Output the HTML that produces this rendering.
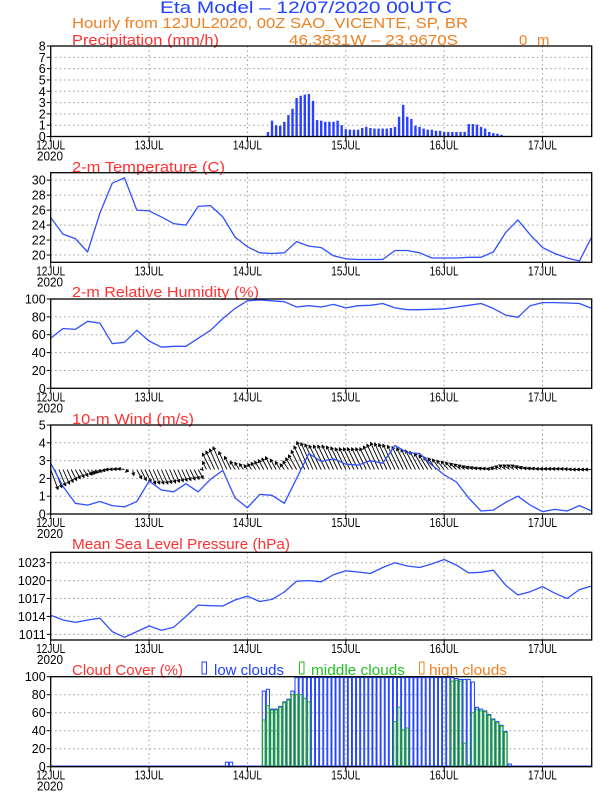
<!DOCTYPE html>
<html><head><meta charset="utf-8"><style>
html,body{margin:0;padding:0;background:#fff;}
svg{display:block;font-family:"Liberation Sans",sans-serif;}
</style></head><body>
<svg id="chart" width="612" height="792" viewBox="0 0 612 792" xmlns="http://www.w3.org/2000/svg">
<rect width="612" height="792" fill="#fff"/>
<text x="160" y="13" font-size="17" fill="#2040ff" textLength="292" lengthAdjust="spacingAndGlyphs">Eta Model – 12/07/2020 00UTC</text>
<text x="72" y="28" font-size="15" fill="#f08020" textLength="396" lengthAdjust="spacingAndGlyphs">Hourly from 12JUL2020, 00Z  SAO_VICENTE, SP, BR</text>
<text x="289" y="45" font-size="15" fill="#f08020" textLength="169" lengthAdjust="spacingAndGlyphs">46.3831W – 23.9670S</text>
<text x="519" y="45" font-size="15" fill="#f08020">0</text>
<text x="537" y="45" font-size="15" fill="#f08020">m</text>
<g id="g"></g>
</svg>
<script>
// ---- data (hours from 12JUL 00Z) ----
const dayLabels = ["12JUL","13JUL","14JUL","15JUL","16JUL","17JUL"];
const precipStartHour = 53;
const precipValues = [0.4,1.4,1.0,0.95,1.3,1.9,2.45,3.4,3.6,3.7,3.75,3.15,1.45,1.4,1.3,1.3,1.3,1.4,1.0,0.65,0.6,0.6,0.6,0.75,0.85,0.75,0.7,0.7,0.7,0.7,0.75,0.85,1.75,2.8,1.75,1.55,0.95,0.85,0.7,0.6,0.6,0.5,0.5,0.4,0.4,0.4,0.4,0.4,0.4,1.1,1.1,1.05,0.85,0.7,0.4,0.3,0.25,0.15,0.05];
const stepHours = 3;
const temperature = [25.0,22.8,22.2,20.4,25.6,29.6,30.3,26.0,25.9,25.1,24.2,24.0,26.5,26.6,25.1,22.4,21.1,20.3,20.2,20.3,21.8,21.2,21.0,19.9,19.5,19.4,19.4,19.4,20.6,20.6,20.3,19.6,19.6,19.6,19.7,19.7,20.4,23.0,24.7,22.7,21.0,20.2,19.6,19.2,22.4];
const humidity = [56,67,66,75,73,50,51.5,65,53,46,47,47,56,65,78,89.5,98,99,98,97,91,92.5,91,94,90,92.5,93,95,90,88,88,88.5,89,91,93,95,89.5,82,79.5,92.5,96,96,95.5,95,89.5];
const windSpeed = [2.85,1.55,0.6,0.5,0.7,0.47,0.4,0.7,1.85,1.35,1.25,1.7,1.25,1.95,2.45,0.9,0.35,1.1,1.05,0.6,2.0,3.4,2.95,3.1,2.8,2.75,3.0,2.85,3.85,3.45,3.4,2.75,2.2,1.8,0.9,0.17,0.22,0.65,1.0,0.5,0.13,0.26,0.17,0.47,0.17];
const windV = [-1.1,-0.8,-0.5,-0.3,-0.2,0,0.05,-0.5,-0.8,-0.8,-0.7,-0.6,-0.5,0.9,1.25,0.45,0.25,0.45,0.7,0.3,0.8,1.55,1.35,1.35,1.2,1.2,1.2,1.5,1.4,1.2,1.0,0.7,0.5,0.35,0.2,0.1,0.05,0.25,0.25,0.1,0.05,0.05,0.05,0,0];
const windU = [0.9,0.8,0.6,0.5,-0.5,-0.8,-0.8,0.6,0.8,0.8,0.7,0.6,0.6,-1.0,-1.2,-0.6,-0.4,-0.6,-0.8,-0.5,-1.0,-1.5,-1.5,-1.4,-1.3,-1.3,-1.3,-1.5,-1.5,-1.3,-1.2,-1.0,-0.9,-0.8,-0.8,-0.8,-0.8,-0.8,-0.8,-0.8,-0.8,-0.8,-0.8,-0.8,-0.8];
const pressure = [1014.2,1013.4,1013.0,1013.4,1013.7,1011.45,1010.5,1011.45,1012.4,1011.7,1012.2,1014.0,1015.9,1015.8,1015.75,1016.75,1017.4,1016.5,1016.85,1018.1,1019.9,1020.0,1019.8,1021.0,1021.65,1021.45,1021.2,1022.2,1023.0,1022.45,1022.2,1022.8,1023.55,1022.6,1021.3,1021.4,1021.75,1019.25,1017.6,1018.15,1019.0,1017.9,1017.0,1018.5,1019.1];
const cloudStartHour = 40;
const lowClouds = [0,0,0,5,5,0,0,0,0,0,0,0,84,86,64,64,67,72,75,84,99,99,99,99,99,99,99,99,99,99,99,99,99,99,99,99,99,99,99,99,99,99,99,99,99,99,99,99,99,99,99,99,99,99,99,99,99,99,99,98,97,97,97,94,66,64,62,58,53,50,46,39,3];
const midClouds = [0,0,0,0,0,0,0,0,0,0,0,0,52,68,63,63,66,71,74,80,80,80,76,72,0,0,0,0,0,0,0,0,0,0,0,0,0,0,0,0,0,0,0,0,50,66,41,43,0,0,0,0,0,0,0,0,0,0,95,96,95,26,2,60,64,62,61,57,52,49,45,38,0];
const precipTicks = [0,1,2,3,4,5,6,7,8];
const tempTicks = [20,22,24,26,28,30];
const rhTicks = [0,20,40,60,80,100];
const windTicks = [0,1,2,3,4,5];
const slpTicks = [1011,1014,1017,1020,1023];
const cloudTicks = [0,20,40,60,80,100];

// ---- geometry ----
const NS="http://www.w3.org/2000/svg";
const G=document.getElementById('g');
const X0=50.7, X1=591.7, HMAX=132;
function xs(h){return X0+(X1-X0)*h/HMAX;}
function ys(p,v){return p.bottom-(v-p.min)/(p.max-p.min)*(p.bottom-p.top);}
function mk(tag,attrs,parent){const e=document.createElementNS(NS,tag);for(const k in attrs)e.setAttribute(k,attrs[k]);(parent||G).appendChild(e);return e;}
const BLUE="#3050ff";

function panel(p,ticks,name,title,titleW,titleY){
  const grp=mk('g',{});
  
  
  for(let d=1;d<dayLabels.length;d++){
    const gl=mk('line',{x1:xs(d*24),x2:xs(d*24),y1:p.top,y2:p.bottom,stroke:'#999','stroke-width':1,'stroke-dasharray':'1.5,3'},grp);
    
    
  }
  ticks.forEach(t=>{
    const y=ys(p,t);
    if(y>p.top+1&&y<p.bottom-1){
      const gl=mk('line',{x1:X0,x2:X1,y1:y,y2:y,stroke:'#999','stroke-width':1,'stroke-dasharray':'1.5,3'},grp);
      
      
    }
    const tk=mk('line',{x1:X0-4,x2:X0,y1:y,y2:y,stroke:'#000','stroke-width':1},grp);
    
    
    const tl=mk('text',{x:X0-5,y:y+4.5,'font-size':12.5,'text-anchor':'end',fill:'#000'},grp);
    tl.textContent=t;
    
    
  });
  dayLabels.forEach((d,i)=>{
    const x=xs(i*24);
    const tk=mk('line',{x1:x,x2:x,y1:p.bottom,y2:p.bottom+4,stroke:'#000','stroke-width':1},grp);
    
    
    const tl=mk('text',{x:x,y:p.bottom+13,'font-size':12.5,'text-anchor':'middle',fill:'#000',textLength:29,lengthAdjust:'spacingAndGlyphs'},grp);
    tl.textContent=d;
    
    
  });
  const yr=mk('text',{x:50,y:p.bottom+24,'font-size':12.5,'text-anchor':'middle',fill:'#000',textLength:26,lengthAdjust:'spacingAndGlyphs'},grp);
  yr.textContent='2020';
  
  
  const tt=mk('text',{x:72,y:titleY+5,'font-size':15,fill:'#ff3030',textLength:titleW,lengthAdjust:'spacingAndGlyphs'},grp);
  tt.textContent=title;
  
  
  return grp;
}
function frame(p,name){
  const r=mk('rect',{x:X0,y:p.top,width:X1-X0,height:p.bottom-p.top,fill:'none',stroke:'#000','stroke-width':1.3});
  
  
}
function line(p,arr,name){
  const pts=arr.map((v,i)=>xs(i*stepHours).toFixed(1)+','+ys(p,v).toFixed(1)).join(' ');
  const pl=mk('polyline',{points:pts,fill:'none',stroke:BLUE,'stroke-width':1.3,'stroke-linejoin':'round'});
  
  
}

const P1={top:46,bottom:136.5,min:0,max:8};
const P2={top:172.7,bottom:262.3,min:19.03,max:31};
const P3={top:299,bottom:388.3,min:0,max:100};
const P4={top:425,bottom:514,min:0,max:5};
const P5={top:552.3,bottom:640,min:1010.05,max:1024.75};
const P6={top:676.7,bottom:766.7,min:0,max:100};

// Precip
panel(P1,precipTicks,'precipitation','',0,40).lastChild.remove();
{const t=mk('text',{x:72,y:45,'font-size':15,fill:'#ff3030',textLength:147,lengthAdjust:'spacingAndGlyphs'});t.textContent='Precipitation (mm/h)';

}
precipValues.forEach((v,i)=>{
  const x=xs(precipStartHour+i), y=ys(P1,v);
  const b=mk('rect',{x:x-1.2,y:y,width:2.4,height:P1.bottom-y,fill:'#2a40ff'});
  
  
});
frame(P1,'precipitation');

// Temperature
panel(P2,tempTicks,'temperature','2-m Temperature (C)',153,167);
line(P2,temperature,'temperature-line');
frame(P2,'temperature');

// RH
panel(P3,rhTicks,'humidity','2-m Relative Humidity (%)',187,292);
line(P3,humidity,'humidity-line');
frame(P3,'humidity');

// Wind: arrows drawn hourly, components blended between 3-hourly samples
panel(P4,windTicks,'wind','10-m Wind (m/s)',122,419);
for(let h=0;h<=HMAX;h++){
  const k=Math.min(Math.floor(h/stepHours),windV.length-2), f=(h-k*stepHours)/stepHours;
  const v=windV[k]*(1-f)+windV[k+1]*f, u=windU[k]*(1-f)+windU[k+1]*f;
  const bx=xs(h), by=ys(P4,2.5);
  const tx=bx+u*8, ty=ys(P4,2.5+v);
  const a=mk('line',{x1:bx,y1:by,x2:tx,y2:ty,stroke:'#000','stroke-width':0.9});
  
  
  const ang=Math.atan2(ty-by,tx-bx), L=3;
  const hd=mk('polyline',{points:`${tx-L*Math.cos(ang-0.5)},${ty-L*Math.sin(ang-0.5)} ${tx},${ty} ${tx-L*Math.cos(ang+0.5)},${ty-L*Math.sin(ang+0.5)}`,fill:'none',stroke:'#000','stroke-width':1.2});
  
  
}
line(P4,windSpeed,'wind-speed-line');
frame(P4,'wind');

// MSLP
panel(P5,slpTicks,'pressure','Mean Sea Level Pressure (hPa)',218,544);
line(P5,pressure,'pressure-line');
frame(P5,'pressure');

// Clouds
panel(P6,cloudTicks,'cloud','Cloud Cover (%)',111,670);
[['#2040ff',202,'low clouds',214,70,'legend-low'],['#20c020',299.5,'middle clouds',311,94,'legend-middle'],['#f08020',419.5,'high clouds',429,78,'legend-high']].forEach(l=>{
  const r=mk('rect',{x:l[1],y:662,width:4.5,height:12,fill:'none',stroke:l[0],'stroke-width':1});
  
  
  const t=mk('text',{x:l[3],y:675,'font-size':15,fill:l[0],textLength:l[4],lengthAdjust:'spacingAndGlyphs'});
  t.textContent=l[2];
  
  
});
{const z=mk('line',{x1:X0,x2:X1,y1:P6.bottom-0.5,y2:P6.bottom-0.5,stroke:'#2040ff','stroke-width':1.5});

}
lowClouds.forEach((v,i)=>{
  if(v<=0)return;
  const x=xs(cloudStartHour+i), y=ys(P6,v);
  const b=mk('rect',{x:x-1.6,y:y,width:3.2,height:P6.bottom-y,fill:'none',stroke:'#2040ff','stroke-width':1});
  
  
});
midClouds.forEach((v,i)=>{
  if(v<=0)return;
  const x=xs(cloudStartHour+i), y=ys(P6,v);
  const b=mk('rect',{x:x-1.2,y:y,width:2.4,height:P6.bottom-y,fill:'none',stroke:'#20b020','stroke-width':1});
  
  
});
frame(P6,'cloud');
</script>
</body></html>
